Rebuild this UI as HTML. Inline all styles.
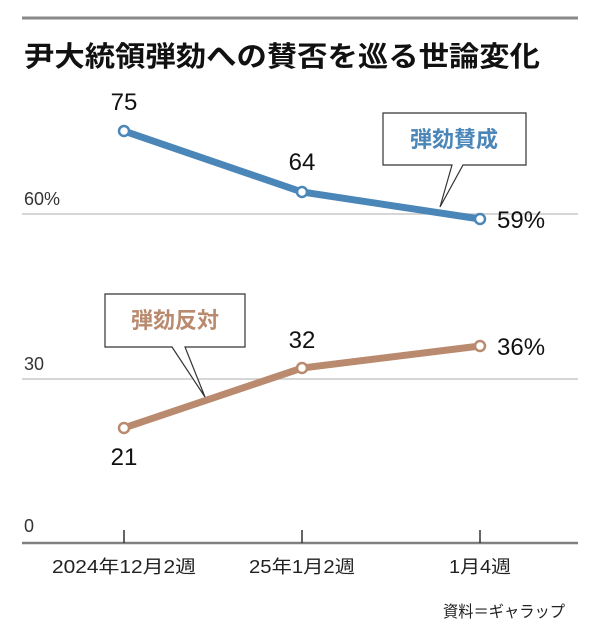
<!DOCTYPE html>
<html><head><meta charset="utf-8"><style>
body{margin:0;background:#fff;}
svg{display:block;font-family:"Liberation Sans","Noto Sans CJK JP",sans-serif;}
</style></head><body>
<svg width="600" height="634" viewBox="0 0 600 634">
<line x1="22" y1="18" x2="578" y2="18" stroke="#8a8a8a" stroke-width="3"/>
<text x="24" y="66" font-size="28" font-weight="bold" fill="#111" textLength="516" lengthAdjust="spacingAndGlyphs">尹大統領弾劾への賛否を巡る世論変化</text>
<line x1="22" y1="214" x2="578" y2="214" stroke="#c8c8c8" stroke-width="1.5"/>
<line x1="22" y1="379" x2="578" y2="379" stroke="#c8c8c8" stroke-width="1.5"/>
<line x1="22" y1="543" x2="578" y2="543" stroke="#808080" stroke-width="2.5"/>
<g stroke="#333" stroke-width="1.5"><line x1="124" y1="530" x2="124" y2="543"/><line x1="302" y1="530" x2="302" y2="543"/><line x1="480" y1="530" x2="480" y2="543"/></g>
<g font-size="18" fill="#333"><text x="24" y="205">60%</text><text x="24" y="370">30</text><text x="24" y="532">0</text></g>
<g font-size="18" fill="#222" text-anchor="middle"><text x="124" y="573" textLength="144" lengthAdjust="spacingAndGlyphs">2024年12月2週</text><text x="302" y="573" textLength="106" lengthAdjust="spacingAndGlyphs">25年1月2週</text><text x="480" y="573" textLength="62" lengthAdjust="spacingAndGlyphs">1月4週</text></g>
<text x="565" y="617" font-size="16" fill="#222" text-anchor="end" textLength="122" lengthAdjust="spacingAndGlyphs">資料＝ギャラップ</text>
<polyline points="124,131 302,192 480,219" fill="none" stroke="#4a86b8" stroke-width="7"/>
<polyline points="124,428 302,368 480,346" fill="none" stroke="#b98a6e" stroke-width="7"/>
<g fill="#fff" stroke-width="2.5">
<circle cx="124" cy="131" r="5" stroke="#4a86b8"/><circle cx="302" cy="192" r="5" stroke="#4a86b8"/><circle cx="480" cy="219" r="5" stroke="#4a86b8"/>
<circle cx="124" cy="428" r="5" stroke="#b98a6e"/><circle cx="302" cy="368" r="5" stroke="#b98a6e"/><circle cx="480" cy="346" r="5" stroke="#b98a6e"/>
</g>
<g font-size="24" fill="#111" text-anchor="middle">
<text x="124" y="110">75</text><text x="302" y="170">64</text><text x="124" y="465">21</text><text x="302" y="348">32</text>
</g>
<g font-size="24" fill="#111"><text x="497" y="228">59%</text><text x="497" y="355">36%</text></g>
<path d="M383,113 H526 V165 H463 L440,207 L452,165 H383 Z" fill="#fff" stroke="#333" stroke-width="1.2"/>
<text x="454" y="147" font-size="22" font-weight="bold" fill="#4a86b8" text-anchor="middle">弾劾賛成</text>
<path d="M105,294 H245 V347 H185 L205,397 L172,347 H105 Z" fill="#fff" stroke="#333" stroke-width="1.2"/>
<text x="175" y="328" font-size="22" font-weight="bold" fill="#b98a6e" text-anchor="middle">弾劾反対</text>
</svg>
</body></html>
